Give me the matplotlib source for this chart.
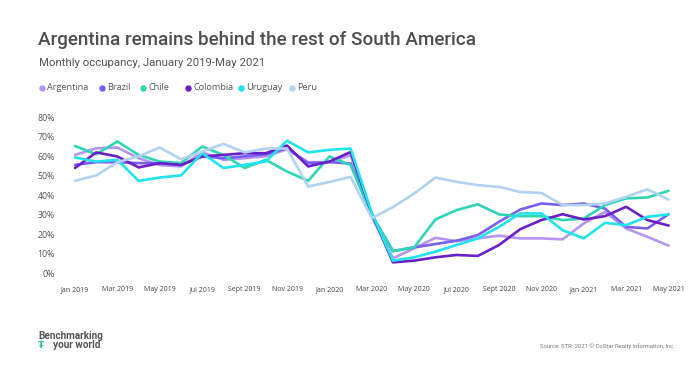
import matplotlib
matplotlib.use("Agg")
import matplotlib.pyplot as plt

months = ["Jan 2019", "Feb 2019", "Mar 2019", "Apr 2019", "May 2019", "Jun 2019",
          "Jul 2019", "Aug 2019", "Sept 2019", "Oct 2019", "Nov 2019", "Dec 2019",
          "Jan 2020", "Feb 2020", "Mar 2020", "Apr 2020", "May 2020", "Jun 2020",
          "Jul 2020", "Aug 2020", "Sept 2020", "Oct 2020", "Nov 2020", "Dec 2020",
          "Jan 2021", "Feb 2021", "Mar 2021", "Apr 2021", "May 2021"]

argentina = [60.7, 64.1, 64.5, 59.0, 55.5, 54.8, 62.0, 58.2, 59.0, 60.0, 63.6, 57.0,
             57.0, 60.5, 29.0, 7.7, 12.8, 18.2, 16.5, 17.9, 19.3, 17.9, 17.9, 17.4,
             25.6, 31.5, 23.0, 18.7, 14.2]
brazil = [55.6, 57.0, 57.0, 56.5, 56.5, 55.5, 60.0, 59.0, 60.0, 61.0, 64.1, 56.5,
          57.0, 56.3, 29.5, 11.4, 13.3, 15.0, 16.7, 19.6, 26.4, 32.7, 35.8, 35.0,
          35.8, 33.2, 23.8, 23.0, 30.3]
chile = [65.3, 61.0, 67.6, 60.7, 57.3, 56.5, 65.0, 60.7, 54.0, 58.2, 52.2, 47.4,
         59.9, 55.5, 30.0, 11.4, 13.3, 27.6, 32.4, 35.4, 30.2, 29.3, 29.3, 27.3,
         28.1, 35.0, 38.4, 38.9, 42.3]
colombia = [54.0, 62.0, 59.9, 54.3, 56.5, 55.6, 59.9, 60.7, 61.6, 61.6, 65.5, 54.8,
            57.3, 62.2, 30.5, 5.6, 6.5, 8.2, 9.4, 8.9, 14.5, 22.6, 27.3, 30.3,
            27.6, 29.3, 34.1, 27.3, 24.5]
uruguay = [59.4, 57.3, 58.2, 47.4, 49.1, 50.2, 61.6, 54.0, 55.6, 57.3, 68.0, 62.0,
           63.3, 64.0, 31.0, 6.5, 8.2, 11.1, 14.5, 17.9, 23.8, 30.7, 30.7, 22.1,
           17.9, 25.9, 24.7, 29.0, 30.2]
peru = [47.4, 50.2, 57.0, 60.0, 64.5, 58.5, 62.4, 66.4, 62.0, 64.0, 64.0, 44.5,
        46.8, 49.5, 28.3, 34.0, 40.9, 49.1, 46.9, 45.2, 44.3, 41.7, 41.2, 35.0,
        35.0, 35.8, 39.2, 43.1, 37.8]

series = [("Argentina", argentina, "#b595ef"),
          ("Brazil", brazil, "#7a5ef0"),
          ("Chile", chile, "#2ed6b6"),
          ("Colombia", colombia, "#6a20c8"),
          ("Uruguay", uruguay, "#1fe3ee"),
          ("Peru", peru, "#b1d2f1")]

yticks = [0, 10, 20, 30, 40, 50, 60, 70, 80]
ytick_labels = [f"{v}%" for v in yticks]

W, H = 700, 367
fig = plt.figure(figsize=(7, 3.67), dpi=100)
fig.patch.set_facecolor("white")

ax_left, ax_right = 64.4, 679.2
ax_top, ax_bottom = 117.3, 273.3
ax = fig.add_axes([ax_left / W, (H - ax_bottom) / H,
                   (ax_right - ax_left) / W, (ax_bottom - ax_top) / H])

x = list(range(len(months)))
for name, vals, col in series:
    ax.plot(x, vals, color=col, lw=1.9, solid_joinstyle="round",
            solid_capstyle="round", clip_on=False)

ax.set_xlim(-0.5, len(months) - 0.5)
ax.set_ylim(0, 80)
ax.set_yticks(yticks)
ax.set_yticklabels(ytick_labels)
ax.set_xticks(x[::2])
ax.set_xticklabels(months[::2])
for s in ax.spines.values():
    s.set_visible(False)
ax.tick_params(axis="both", length=0)
ax.tick_params(axis="y", pad=7, labelsize=6.3, labelcolor="#555555")
ax.tick_params(axis="x", pad=9, labelsize=5.0, labelcolor="#444444")
for lab in ax.get_yticklabels() + ax.get_xticklabels():
    lab.set_family(["Open Sans", "DejaVu Sans"])

cond = ["Roboto", "DejaVu Sans"]

fig.text(38 / W, 1 - 45 / H, "Argentina remains behind the rest of South America",
         fontsize=13.6, color="#4e4e4e", family=cond, weight="medium",
         va="baseline", ha="left")
fig.text(39 / W, 1 - 66 / H, "Monthly occupancy, January 2019-May 2021",
         fontsize=8.2, color="#555555", family=cond, va="baseline", ha="left")

leg_dots = [41.7, 101.7, 143.3, 188.3, 240.7, 291.7]
for (name, vals, col), dx in zip(series, leg_dots):
    fig.lines.append(plt.Line2D([dx / W], [1 - 87.5 / H], marker="o", ms=3.6,
                                color=col, ls="none", transform=fig.transFigure))
    fig.text((dx + 5) / W, 1 - 87.5 / H, name, fontsize=6.6, color="#555555",
             family=["Open Sans", "DejaVu Sans"], va="center", ha="left")

fig.text(38 / W, 1 - 339 / H, "Benchmarking", fontsize=7.2, color="#555555",
         family=cond, weight="bold", va="baseline", ha="left")
fig.text(100 / W, 1 - 348 / H, "your world", fontsize=7.2, color="#555555",
         family=cond, weight="bold", va="baseline", ha="right")
fig.text(41 / W, 1 - 348 / H, "\u0166", fontsize=6.5, color="#2ab5a5",
         family=["DejaVu Sans"], weight="bold", va="baseline", ha="center")

fig.text(675 / W, 1 - 348 / H,
         "Source: STR. 2021 \u00a9 CoStar Realty Information, Inc.",
         fontsize=4.2, color="#777777", family=cond, va="baseline", ha="right")

fig.savefig("out.png", dpi=100, facecolor="white")
